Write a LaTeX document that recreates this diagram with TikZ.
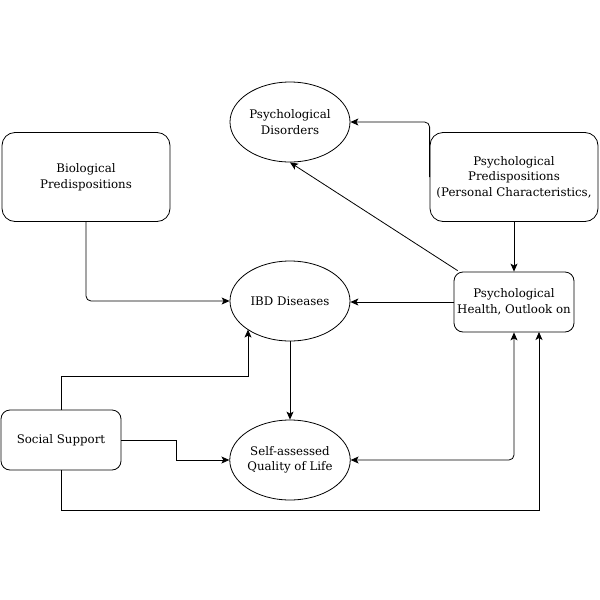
\documentclass[tikz,border=0pt]{standalone}
\usepackage{fontspec}
\setmainfont{DejaVu Serif}
\usetikzlibrary{arrows.meta,shapes.geometric}
\begin{document}
\begin{tikzpicture}[x=1pt,y=-1pt,
  every node/.style={font=\fontsize{11.8}{15.5}\selectfont, align=center, inner sep=0pt},
  bigbox/.style={draw, line width=0.8pt, rounded corners=13pt, minimum width=168pt, minimum height=89pt},
  smallbox/.style={draw, line width=0.8pt, rounded corners=9pt, minimum width=120pt, minimum height=60pt},
  oval/.style={draw, line width=0.8pt, ellipse, minimum width=120pt, minimum height=80pt},
  link/.style={draw, line width=0.8pt, -{Stealth[length=8pt,width=7pt,inset=2pt]}},
  dlink/.style={draw, line width=0.8pt, {Stealth[length=8pt,width=7pt,inset=2pt]}-{Stealth[length=8pt,width=7pt,inset=2pt]}}
]
\useasboundingbox (0,0) rectangle (600,600);
\node[oval] (dis) at (290,122) {Psychological\\Disorders};
\node[bigbox] (bio) at (86,177) {Biological\\Predispositions};
\node[bigbox] (ppred) at (514,177) {Psychological\\Predispositions\\(Personal Characteristics,};
\node[smallbox] (ph) at (514,302) {Psychological\\Health, Outlook on};
\node[oval] (ibd) at (290,301) {IBD Diseases};
\node[oval] (qol) at (290,460) {Self-assessed\\Quality of Life};
\node[smallbox] (soc) at (61,440) {Social Support};

\coordinate (ibdin) at (248,329.6);
\path[link, rounded corners=5pt] (bio.south) |- (ibd.west);
\path[link, rounded corners=5pt] (ppred.west) |- (dis.east);
\path[link] (ppred.south) -- (ph.north);
\path[link] (ph.north west) ++(4,-1) -- (dis.south);
\path[link] (ph.west) -- (ibd.east |- ph.west);
\path[link] (ibd.south) -- (qol.north);
\path[link] (soc.north) |- (248,376) -- (ibdin);
\path[link] (soc.east) -| (176,460) -- (qol.west);
\path[link] (soc.south) |- (539,510) -- (539,332);
\path[dlink, rounded corners=5pt] (qol.east) -| (ph.south);
\end{tikzpicture}
\end{document}
